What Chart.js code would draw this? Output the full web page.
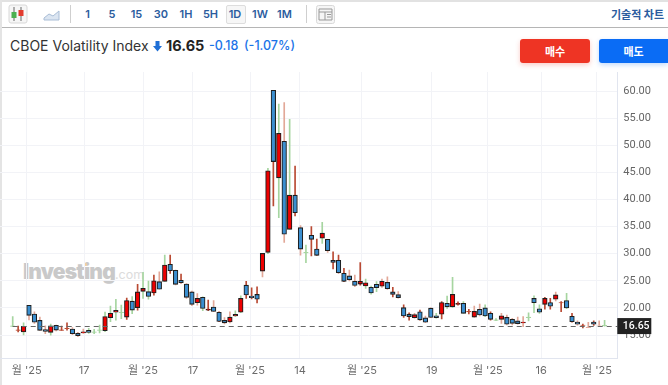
<!DOCTYPE html>
<html><head><meta charset="utf-8">
<script src="https://cdn.jsdelivr.net/npm/chart.js@4"></script>
<style>
html,body{margin:0;padding:0;background:#fff;width:668px;height:385px;overflow:hidden;font-family:Inter,"Noto Sans CJK KR",sans-serif}
.a{position:absolute;white-space:nowrap}
.t{top:5px;height:18px;line-height:18px;font-size:11px;font-weight:600;color:#2b5c9e;transform:translateX(-50%)}
</style></head><body>
<div class="a" style="left:0;top:0;width:668px;height:2px;background:#e2e2e2"></div>
<div class="a" style="left:0;top:27px;width:668px;height:1px;background:#b5b5b5"></div>
<div class="a" style="left:0;top:0;width:2px;height:385px;background:#e4e4e4"></div>
<svg class="a" style="left:8px;top:4px" width="56" height="20">
<rect x="1" y="1" width="18" height="18" rx="2" fill="#f6f6f6" stroke="#d8d8d8"/>
<path d="M6 3v14M13 3v14" stroke="#666"/><rect x="3.5" y="8" width="5" height="6" fill="#4bb04f"/><rect x="10.5" y="6" width="5" height="6" fill="#e23b2e"/>
<path d="M36 14l5-4 4 2 6-5v9H36z" fill="#dbe5f1" stroke="#a9bdd6"/>
</svg>
<div class="a" style="left:70px;top:5px;width:1px;height:18px;background:#cfcfcf"></div>
<div class="a" style="left:306px;top:5px;width:1px;height:18px;background:#cfcfcf"></div>
<div class="a" style="left:226px;top:5px;width:18px;height:17px;background:#f6f6f6;border:1px solid #ddd;border-radius:2px"></div>
<div class="a t" style="left:87.5px">1</div><div class="a t" style="left:112px">5</div><div class="a t" style="left:136.5px">15</div>
<div class="a t" style="left:161px">30</div><div class="a t" style="left:186px">1H</div><div class="a t" style="left:210.5px">5H</div>
<div class="a t" style="left:235px">1D</div><div class="a t" style="left:260px">1W</div><div class="a t" style="left:284.5px">1M</div>
<svg class="a" style="left:316px;top:5px" width="19" height="19"><rect x=".5" y=".5" width="18" height="18" rx="2" fill="#f6f6f6" stroke="#d8d8d8"/><path d="M3 4h13v11H3zM3 7h13M9 7v8M11 9.5h4M11 12h4" fill="none" stroke="#999"/></svg>
<div class="a" style="left:611px;top:5px;line-height:18px;font-size:11px;font-weight:700;color:#2b5c9e;font-family:'Noto Sans CJK KR'">기술적 차트</div>
<div class="a" style="left:10px;top:37px;line-height:18px;font-size:14px;color:#333">CBOE Volatility Index</div>
<svg class="a" style="left:153px;top:41px" width="9" height="11"><path d="M2.5 0h4v5H9L4.5 10.5 0 5h2.5z" fill="#1f6fd6"/></svg>
<div class="a" style="left:166px;top:37px;line-height:18px;font-size:14.5px;font-weight:700;color:#222">16.65</div>
<div class="a" style="left:209px;top:37px;line-height:18px;font-size:12.5px;font-weight:500;color:#1a73e8">-0.18</div>
<div class="a" style="left:244px;top:37px;line-height:18px;font-size:12.5px;font-weight:500;color:#1a73e8">(-1.07%)</div>
<div class="a" style="left:520px;top:39px;width:70px;height:24px;line-height:24px;background:#ee3424;border-radius:3px;text-align:center;color:#fff;font-size:11px;font-weight:700;font-family:'Noto Sans CJK KR';box-shadow:0 2px 5px rgba(238,52,36,.25)">매수</div>
<div class="a" style="left:599px;top:39px;width:69px;height:24px;line-height:24px;background:#0a6cf5;border-radius:3px 0 0 3px;text-align:center;color:#fff;font-size:11px;font-weight:700;font-family:'Noto Sans CJK KR';box-shadow:0 2px 5px rgba(10,108,245,.25)">매도</div>
<div class="a" style="left:23px;top:258px;line-height:28px;font-size:21px;font-weight:900;color:#c9c9c9;letter-spacing:-.8px">Investing<span style="font-size:12.5px;font-weight:400;color:#dcdcdc;letter-spacing:0">.com</span></div>
<div class="a" style="left:84px;top:263px;width:3px;height:3px;border-radius:2px;background:#f3cf9f"></div>
<div class="a" style="left:0;top:72px;width:668px;height:313px"><canvas id="c" width="668" height="313"></canvas></div>
<script>
const opens=[16.6,15.85,15.55,20.48,18.87,17.7,15.98,15.5,16.8,15.85,16.15,16.1,15.3,15.4,15.85,15.5,15.85,15.8,18.2,19.2,19.1,18.3,21.25,20.05,23.05,23,22.75,24.85,24.9,28.05,26.95,25.1,24.4,22.95,20.95,21.95,19.6,20.15,19.2,17.7,17.4,18.5,19.2,24.2,22.2,22.5,26.8,30.25,60.15,44,50.75,34.5,40.8,34.8,30.15,33.4,30.85,32.85,32.65,28.8,28.8,26.4,25.9,24.9,24.4,24.05,23.8,24.35,24,24.7,22.95,22.45,20.05,18.85,18.2,19.3,18.15,19.95,18.55,18.85,20.85,20.2,20.65,20.85,19.25,18.3,19.75,20,19,17.7,17.9,18.25,17.9,17.6,17.25,18.2,21.75,19.85,20.65,21,21.6,20.9,21.35,18.45,17.4,16.75,16.35,17.4,16.8,16.7];
const closes=[16.7,15.95,16.6,18.63,17.35,15.87,15.68,16.7,15.9,15.95,16.25,15.25,14.87,15.6,15.5,15.6,15.95,18.4,19,19.55,19.2,21.35,19.6,22.95,23.6,22.1,25,23.45,27.9,26.85,24.35,24.65,21.95,20.65,21.75,19.9,19.8,19.35,17.5,17.25,18.3,18.8,21.75,22.4,21.9,21.6,30.05,45.3,47,52.2,33.6,40.8,37.55,30.85,30.25,32.65,29.7,33.8,30.55,28.4,26.5,24.9,25.2,24.15,24.9,24.65,22.75,23.75,24.9,23.55,22.5,21.9,18.5,18.4,18.75,17.8,17.35,18.25,18.2,21,20.2,22.5,20.85,19,19.35,19.35,18.7,18.5,17.9,17.8,18.55,17,17.15,17.1,17.4,18.3,20.95,19.2,21.75,20.3,22.4,21,20,17.45,17,16.85,16.4,17,16.85,16.8];
const highs=[18.4,16.65,17.27,20.48,19.3,18.3,16.7,17,16.85,16.65,17.27,16.35,15.5,16.1,16.25,16.05,16.85,19.25,20.35,21.6,20.5,21.8,22.1,24.35,26.55,24.95,26.05,26.65,29.75,29.75,27,26.25,24.5,23.1,22.65,22.05,21.45,21.35,19.3,18.2,19.3,19.45,22.25,24.9,23.7,23.9,30.05,45.75,60.15,57.6,57.9,54.8,46.15,35.2,31.6,35,32.7,35.8,32.65,30.35,29.75,27.3,27,26.05,28.35,25.3,24.05,24.85,25.3,25.75,23.8,23,20.55,19.1,19,19.6,18.5,20,19,21.15,22.2,25.65,21.1,21.15,19.75,20.35,20.7,20.55,19.3,18.05,19,18.7,18.1,18.3,18.4,19.1,22.25,20.55,21.95,21.75,22.9,21.15,22.7,19,17.6,17,17.35,17.6,17.6,17.7];
const lows=[16.55,15.55,15,17.77,17.15,15.87,15.25,14.95,15.75,15.85,15.9,15.05,14.7,15.3,15.3,15.25,15.4,15.6,17.45,17.75,18,17.9,18.95,19.6,21.75,21.6,22.35,23.45,24.9,26.35,24.25,24.55,21.75,20.4,20.5,19.5,19.5,19.3,17.45,17.05,17.25,18.4,19.1,21.75,21.65,20.9,25.7,30,38.8,36.65,32.1,34.5,36.95,29.75,28.35,29.6,29.7,31.9,30.25,27.2,26.4,24.85,25,23.9,24.2,23.6,22.55,23,23.8,23.4,22.05,21.8,18.25,17.75,18.1,17.75,17.3,18.2,18.1,17.95,19.9,20.1,20.5,19,18.9,18.25,18.5,18.4,17.75,17.65,17.15,16.85,16.85,17,16.55,17.6,19.1,19,19.75,19.75,21.3,19.3,19.85,17.35,16.8,16.3,16.35,16.75,16.75,16.65];
const wickKinds="grgssssgsrrsssgggggggrgrggrsgrsrsssgrsrssggrrrsgrgsgrsgrrgsrrrssrgggssrsrrsrssgrggrgrssgrgsssssgggrrsrgrsrsrsgrrr".split("");
const tickSlots=[2.58,13.13,24,33.2,43.7,52.9,64.3,77.2,87.5,97.3,107.6];
const tickLabels=["월 '25","17","월 '25","17","월 '25","14","월 '25","19","월 '25","16","월 '25"];
const priceTicks=[15,20,25,30,35,40,45,50,55,60];
const lastPrice=16.65;

const slots=opens.map((_,i)=>i);
const kindColor={g:"#a6d5a0",r:"#b94a33",s:"#e2a898"};
const isDoji=i=>Math.abs(opens[i]-closes[i])<=0.11;
const noPad=s=>{s.paddingLeft=s.paddingRight=s.paddingTop=s.paddingBottom=0;};
const lastMark={id:"lastMark",afterDatasetsDraw(ch){
  const {ctx,chartArea:a,scales:{x,y}}=ch;const p=y.getPixelForValue(lastPrice);
  ctx.save();ctx.strokeStyle="#666";ctx.setLineDash([5,4]);ctx.lineWidth=1;
  ctx.beginPath();ctx.moveTo(x.getPixelForValue(0),Math.round(p)+.5);ctx.lineTo(a.right,Math.round(p)+.5);ctx.stroke();
  ctx.setLineDash([]);ctx.fillStyle="#222";ctx.fillRect(a.right,p-8,34,16);
  ctx.fillStyle="#fff";ctx.font="500 10.5px Roboto";ctx.textBaseline="middle";ctx.textAlign="left";
  ctx.fillText(lastPrice.toFixed(2),a.right+5.5,p+.5);ctx.restore();}};
new Chart(document.getElementById("c"),{type:"bar",
 data:{datasets:[
  {label:"wick",order:2,grouped:false,barThickness:1,backgroundColor:wickKinds.map(k=>kindColor[k]),borderWidth:0,
   data:slots.map(i=>({x:i,y:[lows[i],highs[i]]}))},
  {label:"body",order:1,grouped:false,barThickness:4.6,
   backgroundColor:slots.map(i=>isDoji(i)?kindColor[wickKinds[i]]:(closes[i]>=opens[i]?"#ee0000":"#3b8fd0")),
   borderColor:slots.map(i=>isDoji(i)?kindColor[wickKinds[i]]:"#1e1e1e"),
   borderWidth:1.1,borderSkipped:false,
   data:slots.map(i=>({x:i,y:[opens[i],closes[i]]}))}
 ]},
 options:{responsive:false,animation:false,parsing:{xAxisKey:"x",yAxisKey:"y"},
  layout:{padding:0},plugins:{legend:{display:false},tooltip:{enabled:false}},
  scales:{
   x:{type:"linear",offset:false,min:-2.34,max:111.34,
      afterBuildTicks(s){s.ticks=tickSlots.map(v=>({value:v}));},
      afterFit(s){s.height=27;noPad(s);},
      afterTickToLabelConversion(s){s.ticks.forEach((t,i)=>{t.label=tickLabels[i];});},
      grid:{offset:false,color:"#f2f3f7",drawTicks:false},border:{color:"#e1e5ef"},
      ticks:{autoSkip:false,maxRotation:0,padding:6,color:"#6b6b6b",font:{size:11,family:"Inter,'Noto Sans CJK KR'"}}},
   y:{type:"linear",position:"right",min:10.76,max:63.52,
      afterBuildTicks(s){s.ticks=priceTicks.map(v=>({value:v}));},
      afterFit(s){s.width=50.7;noPad(s);},
      grid:{color:"#f2f3f7",drawTicks:false},border:{color:"#e1e5ef"},
      ticks:{padding:6,color:"#666",font:{size:11,family:"Roboto"},callback:v=>v.toFixed(2)}}
  }},plugins:[lastMark]});
</script>
</body></html>
